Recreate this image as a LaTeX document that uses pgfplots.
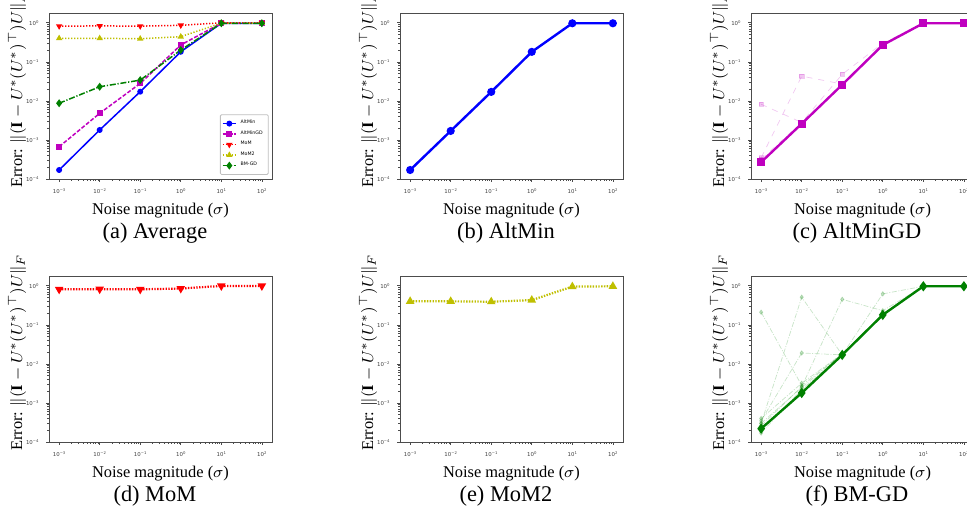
\documentclass[border=0pt]{standalone}
\usepackage{fontspec}
\setmainfont{Liberation Serif}
\setsansfont{DejaVu Sans}
\usepackage{amsmath}
\usepackage{pgfplots}
\pgfplotsset{compat=1.18}

\definecolor{mplb}{rgb}{0,0,1}
\definecolor{mplm}{rgb}{0.75,0,0.75}
\definecolor{mplr}{rgb}{1,0,0}
\definecolor{mply}{rgb}{0.75,0.75,0}
\definecolor{mplg}{rgb}{0,0.5,0}

% tick label as in matplotlib: 10 with a raised exponent, in DejaVu Sans
\newcommand\tl[1]{10\raisebox{1.1pt}{\fontsize{1.9}{2}\selectfont #1}}

\tikzset{
  avgline/.style={line width=0.75pt, mark size=1.1pt},
  trial/.style={line width=0.35pt, opacity=0.22, mark size=1.1pt},
}

% shared settings for all six panels
\pgfplotsset{
  scale only axis,
  width=111.5pt, height=83pt,
  xmin=5.6234e-4, xmax=177.83, ymin=1e-4, ymax=1.778,
  xtick={1e-3,1e-2,1e-1,1,10,100},
  xticklabels={\tl{−3},\tl{−2},\tl{−1},\tl{0},\tl{1},\tl{2}},
  ytick={1e-4,1e-3,1e-2,1e-1,1},
  yticklabels={\tl{−4},\tl{−3},\tl{−2},\tl{−1},\tl{0}},
  axis line style={gray!60!black, line width=0.4pt},
  tick style={gray!60!black, line width=0.3pt},
  tick align=outside, xtick pos=bottom, ytick pos=left,
  major tick length=1.4pt, minor tick length=0.8pt,
  tick label style={font=\fontsize{2.7}{3}\selectfont\sffamily, text=black!75},
  xticklabel style={yshift=0.2pt},
  yticklabel style={xshift=-0.3pt},
  xlabel={Noise magnitude ($\sigma$)},
  ylabel={Error: $\|(\mathbf{I}-U^*(U^*)^\top)U\|_F$},
  label style={font=\fontsize{8.2}{9}\selectfont},
  y label style={at={(axis description cs:-0.143,0.54)}, anchor=center},
  x label style={at={(axis description cs:0.5,-0.193)}, anchor=center},
  title style={at={(axis description cs:0.475,-0.325)}, anchor=center, yshift=-6pt, font=\fontsize{11.2}{12}\selectfont},
  legend image code/.code={\draw[mark repeat=2,mark phase=2,#1] plot coordinates {(0pt,0pt) (3.3pt,0pt) (6.6pt,0pt)};},
}

\begin{document}
\begin{tikzpicture}
% (a) Average
\begin{loglogaxis}[at={(24.5pt,168pt)}, anchor=south west, title={(a) Average},
  legend style={at={(0.985,0.025)}, anchor=south east, font=\fontsize{2.35}{2.8}\selectfont\sffamily,
    draw=gray!50, rounded corners=0.6pt, inner sep=0.8pt, row sep=-2pt, cells={anchor=west}}]
\addplot[mplb, avgline, mark=*] coordinates {(1e-3,1.7e-4) (1e-2,1.8e-3) (1e-1,0.0172) (1,0.181) (10,0.97) (100,0.97)};
\addlegendentry{AltMin}
\addplot[mplm, avgline, dash pattern=on 2pt off 0.9pt, mark=square*, mark options={solid}] coordinates {(1e-3,6.7e-4) (1e-2,4.8e-3) (1e-1,0.028) (1,0.27) (10,0.98) (100,0.98)};
\addlegendentry{AltMinGD}
\addplot[mplr, avgline, dash pattern=on 0.6pt off 0.9pt, mark=triangle*, mark options={solid, rotate=180}] coordinates {(1e-3,0.82) (1e-2,0.83) (1e-1,0.82) (1,0.86) (10,1.0) (100,1.0)};
\addlegendentry{MoM}
\addplot[mply, avgline, dash pattern=on 0.6pt off 0.9pt, mark=triangle*, mark options={solid}] coordinates {(1e-3,0.40) (1e-2,0.40) (1e-1,0.39) (1,0.44) (10,0.98) (100,0.98)};
\addlegendentry{MoM2}
\addplot[mplg, avgline, dash pattern=on 3pt off 0.9pt on 0.6pt off 0.9pt, mark=diamond*, mark size=1.4pt, mark options={solid}] coordinates {(1e-3,8.7e-3) (1e-2,0.023) (1e-1,0.034) (1,0.20) (10,0.97) (100,0.97)};
\addlegendentry{BM-GD}
\end{loglogaxis}

% (b) AltMin
\begin{loglogaxis}[at={(200pt,168pt)}, anchor=south west, title={(b) AltMin}]
\addplot[mplb, line width=1.2pt, mark=*, mark size=1.4pt] coordinates {(1e-3,1.7e-4) (1e-2,1.7e-3) (1e-1,0.017) (1,0.18) (10,0.97) (100,0.97)};
\end{loglogaxis}

% (c) AltMinGD
\begin{loglogaxis}[at={(375.5pt,168pt)}, anchor=south west, title={(c) AltMinGD}]
\addplot[mplm, trial, dashed, mark=square*, mark options={solid}] coordinates {(1e-3,8.2e-3) (1e-2,2.8e-3) (1e-1,0.026) (1,0.27) (10,0.97) (100,0.97)};
\addplot[mplm, trial, dashed, mark=square*, mark options={solid}] coordinates {(1e-3,3.5e-4) (1e-2,0.043) (1e-1,0.027) (1,0.28) (10,0.97) (100,0.97)};
\addplot[mplm, trial, dashed, mark=square*, mark options={solid}] coordinates {(1e-3,3.2e-4) (1e-2,2.8e-3) (1e-1,0.048) (1,0.30) (10,0.97) (100,0.97)};
\addplot[mplm, line width=1.2pt, mark=square*, mark size=1.4pt] coordinates {(1e-3,2.7e-4) (1e-2,2.6e-3) (1e-1,0.026) (1,0.27) (10,0.97) (100,0.97)};
\end{loglogaxis}

% (d) MoM
\begin{loglogaxis}[at={(24.5pt,36.5pt)}, anchor=south west, title={(d) MoM}]
\addplot[mplr, line width=1.1pt, dash pattern=on 0.7pt off 0.7pt, mark=triangle*, mark size=1.4pt, mark options={solid, rotate=180}] coordinates {(1e-3,0.81) (1e-2,0.82) (1e-1,0.81) (1,0.85) (10,0.99) (100,0.99)};
\end{loglogaxis}

% (e) MoM2
\begin{loglogaxis}[at={(200pt,36.5pt)}, anchor=south west, title={(e) MoM2}]
\addplot[mply, line width=1.1pt, dash pattern=on 0.7pt off 0.7pt, mark=triangle*, mark size=1.4pt, mark options={solid}] coordinates {(1e-3,0.40) (1e-2,0.40) (1e-1,0.39) (1,0.43) (10,0.95) (100,0.97)};
\end{loglogaxis}

% (f) BM-GD
\begin{loglogaxis}[at={(375.5pt,36.5pt)}, anchor=south west, title={(f) BM-GD}]
\addplot[mplg, trial, dash pattern=on 2.5pt off 0.8pt on 0.5pt off 0.8pt, mark=diamond*, mark options={solid}] coordinates {(1e-3,0.21) (1e-2,2.8e-3) (1e-1,0.018) (1,0.18) (10,0.97) (100,0.97)};
\addplot[mplg, trial, dash pattern=on 2.5pt off 0.8pt on 0.5pt off 0.8pt, mark=diamond*, mark options={solid}] coordinates {(1e-3,3.0e-4) (1e-2,0.51) (1e-1,0.017) (1,0.18) (10,0.97) (100,0.97)};
\addplot[mplg, trial, dash pattern=on 2.5pt off 0.8pt on 0.5pt off 0.8pt, mark=diamond*, mark options={solid}] coordinates {(1e-3,3.5e-4) (1e-2,0.019) (1e-1,0.017) (1,0.18) (10,0.97) (100,0.97)};
\addplot[mplg, trial, dash pattern=on 2.5pt off 0.8pt on 0.5pt off 0.8pt, mark=diamond*, mark options={solid}] coordinates {(1e-3,2.6e-4) (1e-2,2.6e-3) (1e-1,0.45) (1,0.23) (10,0.97) (100,0.97)};
\addplot[mplg, trial, dash pattern=on 2.5pt off 0.8pt on 0.5pt off 0.8pt, mark=diamond*, mark options={solid}] coordinates {(1e-3,2.0e-4) (1e-2,2.1e-3) (1e-1,0.017) (1,0.62) (10,0.97) (100,0.97)};
\addplot[mplg, trial, dash pattern=on 2.5pt off 0.8pt on 0.5pt off 0.8pt, mark=diamond*, mark options={solid}] coordinates {(1e-3,4.0e-4) (1e-2,3.2e-3) (1e-1,0.018) (1,0.19) (10,0.97) (100,0.97)};
\addplot[mplg, trial, dash pattern=on 2.5pt off 0.8pt on 0.5pt off 0.8pt, mark=diamond*, mark options={solid}] coordinates {(1e-3,1.7e-4) (1e-2,2.2e-3) (1e-1,0.017) (1,0.18) (10,0.97) (100,0.97)};
\addplot[mplg, trial, dash pattern=on 2.5pt off 0.8pt on 0.5pt off 0.8pt, mark=diamond*, mark options={solid}] coordinates {(1e-3,3.0e-4) (1e-2,2.5e-3) (1e-1,0.018) (1,0.19) (10,0.97) (100,0.97)};
\addplot[mplg, line width=1.2pt, mark=diamond*, mark size=1.6pt] coordinates {(1e-3,2.2e-4) (1e-2,1.8e-3) (1e-1,0.017) (1,0.18) (10,0.97) (100,0.97)};
\end{loglogaxis}

\pgfresetboundingbox
\path[use as bounding box] (0,0) rectangle (483.5pt,257.5pt);
\end{tikzpicture}
\end{document}
